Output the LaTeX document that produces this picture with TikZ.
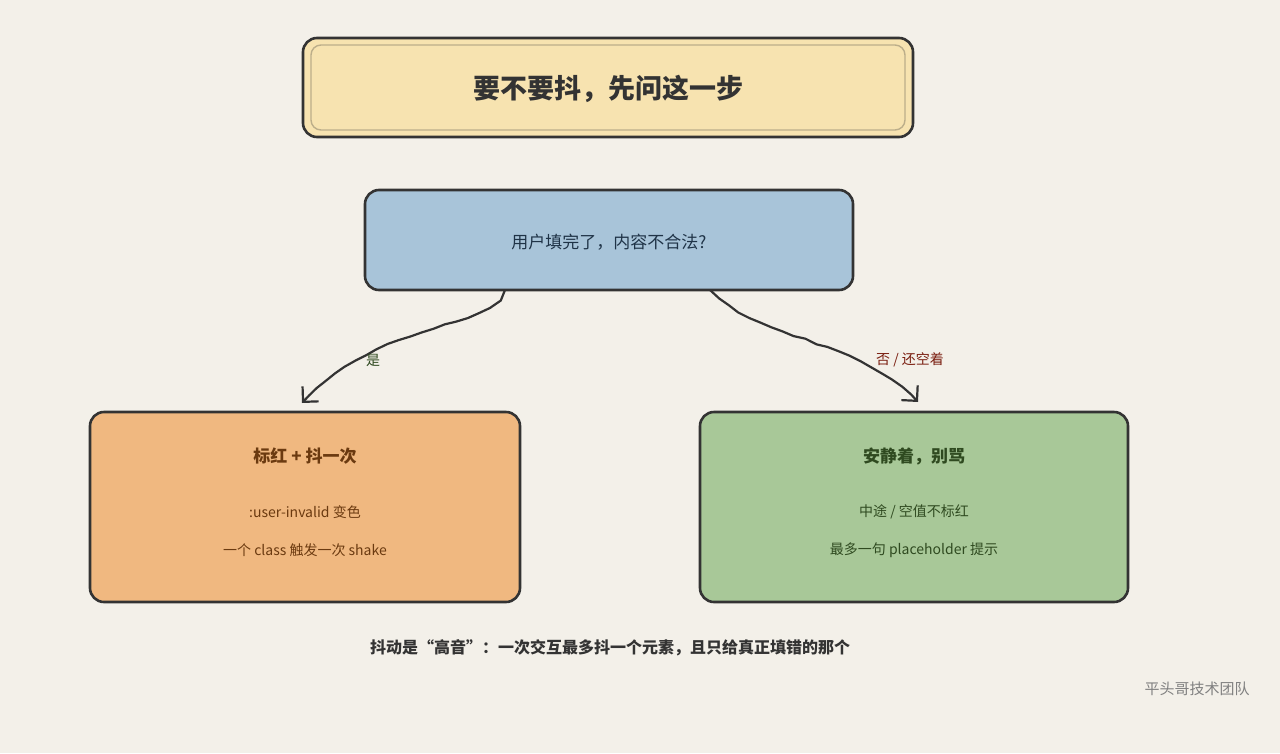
\documentclass[tikz,border=0pt]{standalone}
\usepackage{fontspec}
\setmainfont{Noto Sans CJK SC}
\usetikzlibrary{decorations.pathmorphing,arrows.meta}
\definecolor{bg}{HTML}{F3F0E9}
\definecolor{ln}{HTML}{333333}
\definecolor{ttl}{HTML}{F7E3B0}
\definecolor{qb}{HTML}{A8C4D9}
\definecolor{ob}{HTML}{F0B880}
\definecolor{gb}{HTML}{A8C898}
\definecolor{brn}{HTML}{6B3A10}
\definecolor{dgr}{HTML}{2F4A20}
\definecolor{drd}{HTML}{7A1E10}
\definecolor{qtx}{HTML}{1F3347}
\begin{document}
\begin{tikzpicture}[x=1pt,y=-1pt,
  sk/.style={draw=ln,line width=2.6pt,rounded corners=14pt},
  arr/.style={draw=ln,line width=2.2pt,-{Straight Barb[length=11pt,width=22pt,line width=2.2pt]},decorate,decoration={random steps,segment length=12pt,amplitude=0.8pt,post length=10pt}},
  lbl/.style={font=\fontsize{14}{17}\selectfont}]
\fill[bg] (0,0) rectangle (1280,753);
\useasboundingbox (0,0) rectangle (1280,753);
% title
\path[sk,fill=ttl] (303,38) rectangle (913,137);
\draw[draw=ln!30!ttl,line width=1.4pt,rounded corners=10pt] (311,45) rectangle (905,130);
\node[font=\fontsize{27}{32}\selectfont\bfseries,text=ln] (t) at (608,89) {要不要抖，先问这一步};
% question
\path[sk,fill=qb] (365,190) rectangle (853,290);
\node[font=\fontsize{17}{20}\selectfont,text=qtx] (q) at (609,242) {用户填完了，内容不合法?};
\coordinate (qa) at (505,290);
\coordinate (qb) at (710,290);
% left
\path[sk,fill=ob] (90,412) rectangle (520,602);
\node[font=\fontsize{17}{20}\selectfont\bfseries,text=brn] (l1) at (305,456) {标红 + 抖一次};
\node[lbl,text=brn] (l2) at (305,512) {:user-invalid 变色};
\node[lbl,text=brn] (l3) at (305,550) {一个 class 触发一次 shake};
\coordinate (la) at (302,403);
% right
\path[sk,fill=gb] (700,412) rectangle (1128,602);
\node[font=\fontsize{17}{20}\selectfont\bfseries,text=dgr] (r1) at (914,456) {安静着，别骂};
\node[lbl,text=dgr] (r2) at (914,512) {中途 / 空值不标红};
\node[lbl,text=dgr] (r3) at (914,550) {最多一句 placeholder 提示};
\coordinate (ra) at (918,402);
% arrows
\draw[arr] (qa) .. controls (490,330) and (380,320) .. (la);
\draw[arr] (qb) .. controls (760,340) and (860,340) .. (ra);
\node[lbl,text=dgr] (y) at (373,360) {是};
\node[lbl,text=drd] (n) at (910,360) {否 / 还空着};
% bottom
\node[font=\fontsize{16}{19}\selectfont\bfseries,text=ln] (b) at (610,648) {抖动是“高音”：一次交互最多抖一个元素，且只给真正填错的那个};
\node[font=\fontsize{15}{18}\selectfont,text=gray] (w) at (1197,689) {平头哥技术团队};
\end{tikzpicture}
\end{document}
